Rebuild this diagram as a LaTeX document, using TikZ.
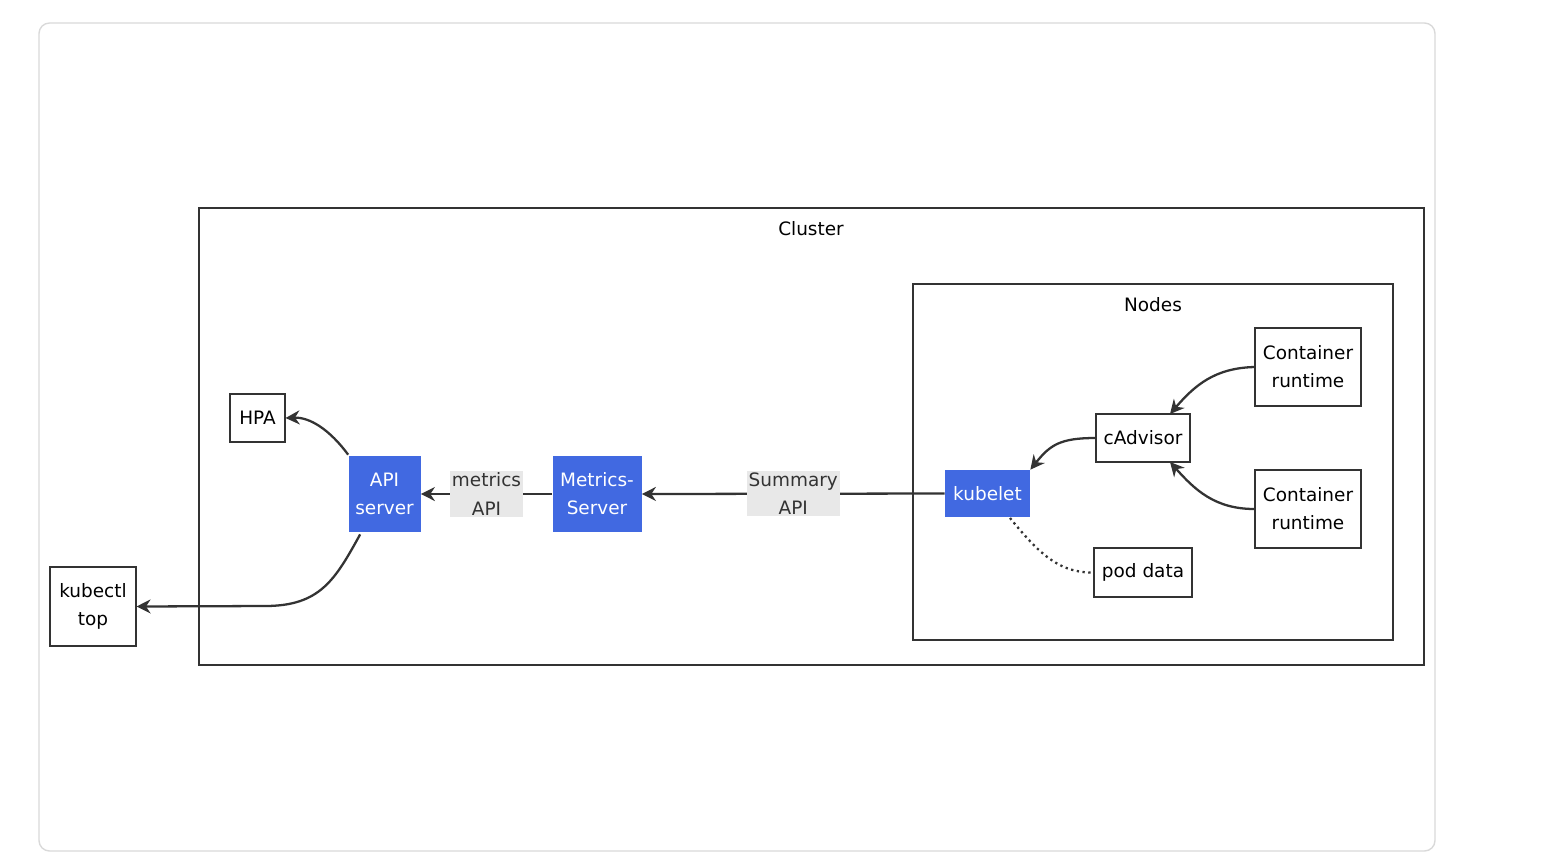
\documentclass[tikz,border=0pt]{standalone}
\usepackage{fontspec}
\setmainfont{DejaVu Sans}
\usetikzlibrary{arrows.meta}
\definecolor{kblue}{HTML}{4169E1}
\definecolor{edgec}{HTML}{333333}
\definecolor{lblbg}{HTML}{E8E8E8}
\begin{document}
\begin{tikzpicture}[x=0.02cm,y=-0.02cm,
  font=\fontsize{10.5pt}{16pt}\selectfont,
  box/.style={draw=black!80,line width=0.6pt,fill=white,align=center,inner sep=0pt},
  bluebox/.style={fill=kblue,text=white,align=center,inner sep=0pt},
  grp/.style={draw=black!80,line width=0.6pt},
  conn/.style={draw=edgec,line width=1.3pt,-{Stealth[length=8pt,width=8pt]}},
  elbl/.style={fill=lblbg,inner sep=1pt,align=center,text=black!80}]
\useasboundingbox (0,0) rectangle (1548,860);
\draw[black!15,line width=0.8pt,rounded corners=6pt] (39,23) rectangle (1435,851);
\draw[grp] (199,208) rectangle (1424,665);
\node (cl) at (811,229) {Cluster};
\draw[grp] (913,284) rectangle (1393,640);
\node (nd) at (1153,305) {Nodes};
\node[box,minimum width=55*0.02cm,minimum height=48*0.02cm] (hpa) at (257.5,418) {HPA};
\node[bluebox,minimum width=72*0.02cm,minimum height=76*0.02cm] (api) at (384.5,494) {API\\server};
\node[bluebox,minimum width=89*0.02cm,minimum height=76*0.02cm] (ms) at (597,494) {Metrics-\\Server};
\node[bluebox,minimum width=85*0.02cm,minimum height=47*0.02cm] (kub) at (987.5,493.5) {kubelet};
\node[box,minimum width=94*0.02cm,minimum height=48*0.02cm] (cad) at (1143,438) {cAdvisor};
\node[box,minimum width=106*0.02cm,minimum height=78*0.02cm] (cr1) at (1308,367) {Container\\runtime};
\node[box,minimum width=106*0.02cm,minimum height=78*0.02cm] (cr2) at (1308,509) {Container\\runtime};
\node[box,minimum width=98*0.02cm,minimum height=49*0.02cm] (pod) at (1143,572.5) {pod data};
\node[box,minimum width=86*0.02cm,minimum height=79*0.02cm] (kt) at (93,606.5) {kubectl\\top};
\draw[conn] (api.north west) ++(0,-1) .. controls (330,430) and (310,417) .. (hpa.east);
\draw[conn] (api.south west) ++(12,2) .. controls (335,580) and (320,606) .. (265,606) -- (kt.east);
\draw[conn] (ms.west) -- node[elbl]{metrics\\API} (api.east);
\draw[conn] (kub.west) -- node[elbl]{Summary\\API} (ms.east);
\draw[conn] (cad.west) .. controls (1060,438) and (1050,445) .. (kub.north east);
\draw[conn] (cr1.west) .. controls (1215,368) and (1195,385) .. (1170,414);
\draw[conn] (cr2.west) .. controls (1215,509) and (1195,490) .. (1170,462);
\draw[edgec,line width=1.3pt,dotted] (1010,518) .. controls (1040,555) and (1060,573) .. (pod.west);
\end{tikzpicture}
\end{document}
